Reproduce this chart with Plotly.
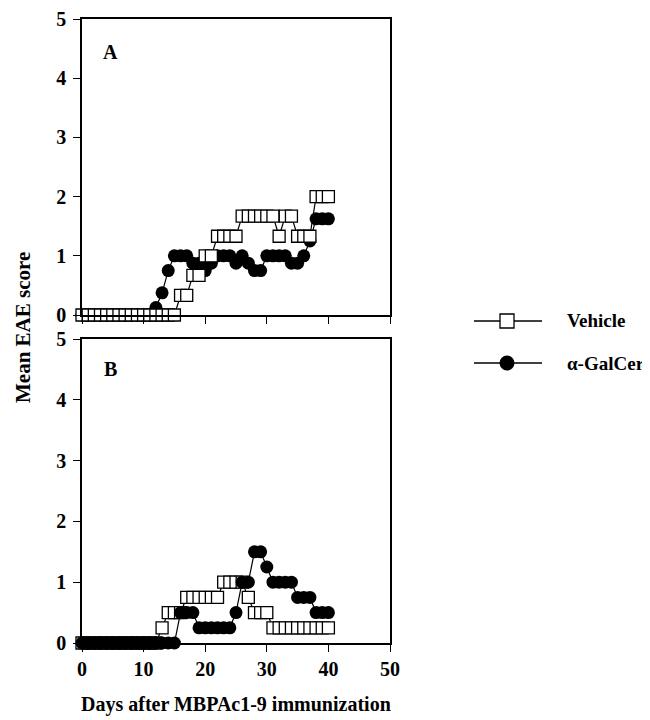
import plotly.graph_objects as go

# ---------------- data ----------------
days = [0, 1, 2, 3, 4, 5, 6, 7, 8, 9, 10, 11, 12, 13, 14, 15, 16, 17, 18, 19, 20,
        21, 22, 23, 24, 25, 26, 27, 28, 29, 30, 31, 32, 33, 34, 35, 36, 37, 38, 39, 40]

vehicle_A = [0, 0, 0, 0, 0, 0, 0, 0, 0, 0, 0, 0, 0, 0, 0, 0,
             0.33, 0.33, 0.67, 0.67, 1.0, 1.0, 1.33, 1.33, 1.33, 1.33,
             1.67, 1.67, 1.67, 1.67, 1.67, 1.67, 1.33, 1.67, 1.67,
             1.33, 1.33, 1.33, 2.0, 2.0, 2.0]
galcer_A = [0, 0, 0, 0, 0, 0, 0, 0, 0, 0, 0, 0,
            0.125, 0.375, 0.75, 1.0, 1.0, 1.0, 0.875, 0.875, 0.75, 0.875,
            1.0, 1.0, 1.0, 0.875, 1.0, 0.875, 0.75, 0.75,
            1.0, 1.0, 1.0, 1.0, 0.875, 0.875, 1.0, 1.25, 1.625, 1.625, 1.625]

vehicle_B = [0, 0, 0, 0, 0, 0, 0, 0, 0, 0, 0, 0, 0,
             0.25, 0.5, 0.5, 0.5, 0.75, 0.75, 0.75, 0.75, 0.75, 0.75,
             1.0, 1.0, 1.0, 1.0, 0.75, 0.5, 0.5, 0.5,
             0.25, 0.25, 0.25, 0.25, 0.25, 0.25, 0.25, 0.25, 0.25, 0.25]
galcer_B = [0, 0, 0, 0, 0, 0, 0, 0, 0, 0, 0, 0, 0, 0, 0, 0,
            0.5, 0.5, 0.5, 0.25, 0.25, 0.25, 0.25, 0.25, 0.25, 0.5,
            1.0, 1.0, 1.5, 1.5, 1.25, 1.0, 1.0, 1.0, 1.0,
            0.75, 0.75, 0.75, 0.5, 0.5, 0.5]

x_ticks = [0, 10, 20, 30, 40, 50]
y_ticks = [0, 1, 2, 3, 4, 5]
series_names = ["Vehicle", "α-GalCer"]
panel_labels = ["A", "B"]
x_title = "Days after MBPAc1-9 immunization"
y_title = "Mean EAE score"

# ---------------- styling ----------------
OFF = 8  # default page body margin
W, H = 650 - OFF, 720 - OFF
ML = 82 - OFF
MT = 19 - OFF
PLOT_R = 390 - OFF
PLOT_B = 643 - OFF
MR = W - PLOT_R
MB = H - PLOT_B
PW, PH = W - ML - MR, H - MT - MB
FONT = "Liberation Serif"


def px(xp):
    """reference page pixel x -> paper coordinate"""
    return (xp - OFF - ML) / PW


def py(yp):
    """reference page pixel y -> paper coordinate"""
    return (PLOT_B - (yp - OFF)) / PH


sq_marker = dict(symbol="square", size=12, color="white", line=dict(color="black", width=1.3))
ci_marker = dict(symbol="circle", size=13, color="black", line=dict(color="black", width=0))
line_style = dict(color="black", width=1.2)

fig = go.Figure()

# Panel A: circles drawn first, squares on top
fig.add_trace(go.Scatter(x=days, y=galcer_A, mode="lines+markers", marker=ci_marker, line=line_style,
                         xaxis="x", yaxis="y", cliponaxis=False, showlegend=False, name=series_names[1]))
fig.add_trace(go.Scatter(x=days, y=vehicle_A, mode="lines+markers", marker=sq_marker, line=line_style,
                         xaxis="x", yaxis="y", cliponaxis=False, showlegend=False, name=series_names[0]))
# Panel B: squares first, circles on top
fig.add_trace(go.Scatter(x=days, y=vehicle_B, mode="lines+markers", marker=sq_marker, line=line_style,
                         xaxis="x2", yaxis="y2", cliponaxis=False, showlegend=False, name=series_names[0]))
fig.add_trace(go.Scatter(x=days, y=galcer_B, mode="lines+markers", marker=ci_marker, line=line_style,
                         xaxis="x2", yaxis="y2", cliponaxis=False, showlegend=False, name=series_names[1]))

tickfont = dict(family=FONT, size=20, color="black", weight="bold")
common_x = dict(range=[0, 50], tickvals=x_ticks, ticks="outside", ticklen=7, tickwidth=1.3,
                tickcolor="black", showline=True, linecolor="black", linewidth=1.5, mirror=True,
                showgrid=False, zeroline=False, tickfont=tickfont, automargin=False,
                ticklabeloverflow="allow")
common_y = dict(range=[0, 5], tickvals=y_ticks, ticks="outside", ticklen=7, tickwidth=1.3,
                tickcolor="black", showline=True, linecolor="black", linewidth=1.5, mirror=True,
                showgrid=False, zeroline=False, tickfont=tickfont, ticklabelstandoff=3, automargin=False,
                ticklabeloverflow="allow")

topA = py(19)
botA = py(315)
topB = py(339)

fig.update_layout(
    width=W, height=H,
    margin=dict(l=ML, r=MR, t=MT, b=MB),
    paper_bgcolor="white", plot_bgcolor="white",
    xaxis=dict(domain=[0, 1], anchor="y", showticklabels=False, **common_x),
    yaxis=dict(domain=[botA, topA], anchor="x", **common_y),
    xaxis2=dict(domain=[0, 1], anchor="y2", showticklabels=True, **common_x),
    yaxis2=dict(domain=[0, topB], anchor="x2", **common_y),
    showlegend=False,
)

annotations = [
    dict(text=f"<b>{panel_labels[0]}</b>", x=4.6, y=4.45, xref="x", yref="y", showarrow=False,
         font=dict(family=FONT, size=20, color="black")),
    dict(text=f"<b>{panel_labels[1]}</b>", x=4.7, y=4.5, xref="x2", yref="y2", showarrow=False,
         font=dict(family=FONT, size=20, color="black")),
    dict(text=f"<b>{x_title}</b>", x=px(236), y=py(704), xref="paper", yref="paper", showarrow=False,
         font=dict(family=FONT, size=20, color="black"), xanchor="center", yanchor="middle"),
    dict(text=f"<b>{y_title}</b>", x=px(23), y=py(328), xref="paper", yref="paper", showarrow=False,
         textangle=-90, font=dict(family=FONT, size=21, color="black"), xanchor="center", yanchor="middle"),
    dict(text=f"<b>{series_names[0]}</b>", x=px(565), y=py(321), xref="paper", yref="paper",
         showarrow=False, xanchor="left", yanchor="middle", font=dict(family=FONT, size=19, color="black")),
    dict(text=f"<b>{series_names[1]}</b>", x=px(565), y=py(363), xref="paper", yref="paper",
         showarrow=False, xanchor="left", yanchor="middle", font=dict(family=FONT, size=19, color="black")),
]
fig.update_layout(annotations=annotations)

# legend glyphs (drawn manually to match the long line samples)
shapes = []
for yy in (321, 363):
    shapes.append(dict(type="line", xref="paper", yref="paper", x0=px(474), x1=px(542),
                       y0=py(yy), y1=py(yy), line=dict(color="black", width=1.3)))
shapes.append(dict(type="rect", xref="paper", yref="paper", x0=px(500), x1=px(514),
                   y0=py(328), y1=py(314), fillcolor="white", line=dict(color="black", width=1.3)))
shapes.append(dict(type="circle", xref="paper", yref="paper", x0=px(499.5), x1=px(514.5),
                   y0=py(370.5), y1=py(355.5), fillcolor="black", line=dict(color="black", width=0)))
fig.update_layout(shapes=shapes)

fig.write_html("out.html")
